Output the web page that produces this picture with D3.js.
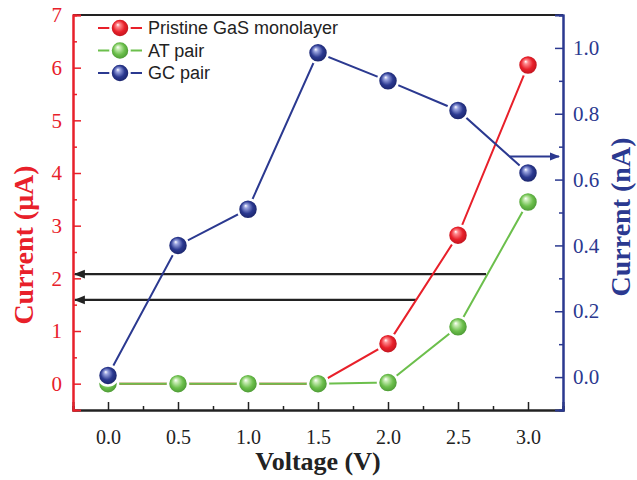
<!DOCTYPE html>
<html>
<head>
<meta charset="utf-8">
<script src="https://cdn.jsdelivr.net/npm/d3@7"></script>
<style>
  body { margin: 0; background: #fff; }
  svg { display: block; }
</style>
</head>
<body>
<div id="chart"></div>
<script>
// data
var voltage = [0.0, 0.5, 1.0, 1.5, 2.0, 2.5, 3.0];
var pristine = [0, 0, 0, 0, 0.76, 2.82, 6.05];      // uA, left axis
var atPair = [0, 0, 0, 0, 0.02, 1.08, 3.45];        // uA, left axis
var gcPair = [0.005, 0.40, 0.51, 0.985, 0.90, 0.81, 0.62]; // nA, right axis
var seriesNames = ["Pristine GaS monolayer", "AT pair", "GC pair"];
var xTicks = [0.0, 0.5, 1.0, 1.5, 2.0, 2.5, 3.0];
var leftTicks = [0, 1, 2, 3, 4, 5, 6, 7];
var rightTicks = [0.0, 0.2, 0.4, 0.6, 0.8, 1.0];
// arrows: [x start, x end, y] in data units
var leftArrows = [[2.7, -0.25, 2.08], [2.2, -0.25, 1.59]];
var rightArrow = [2.87, 3.25, 0.67];

var svgWidth = 637, svgHeight = 480;
var margin = { top: 15, right: 74, bottom: 70, left: 73 };
var width = svgWidth - margin.left - margin.right;
var height = svgHeight - margin.top - margin.bottom;

var red = "#e8202a", green = "#6cbf4c", blue = "#2b3990";
var serif = "'Liberation Serif', 'Times New Roman', serif";

var svg = d3.select("#chart").append("svg")
  .attr("width", svgWidth)
  .attr("height", svgHeight);

var defs = svg.append("defs");
[["red", "#ff8a8e", red, "#b0101a"], ["green", "#c8ecb4", green, "#3f8a2a"], ["blue", "#9aa4e0", blue, "#141d5c"]]
  .forEach(function(c) {
    var g = defs.append("radialGradient").attr("id", "ball-" + c[0])
      .attr("cx", "50%").attr("cy", "50%").attr("r", "55%")
      .attr("fx", "38%").attr("fy", "32%");
    g.append("stop").attr("offset", "0%").attr("stop-color", "#ffffff");
    g.append("stop").attr("offset", "18%").attr("stop-color", c[1]);
    g.append("stop").attr("offset", "55%").attr("stop-color", c[2]);
    g.append("stop").attr("offset", "100%").attr("stop-color", c[3]);
  });
function marker(id, color) {
  defs.append("marker").attr("id", id)
    .attr("viewBox", "0 0 10 10").attr("refX", 9).attr("refY", 5)
    .attr("markerWidth", 5).attr("markerHeight", 5)
    .attr("markerUnits", "strokeWidth")
    .attr("orient", "auto")
    .append("path").attr("d", "M0,1 L10,5 L0,9 Z").attr("fill", color);
}
marker("arrow-black", "#222");
marker("arrow-blue", blue);

var chartGroup = svg.append("g")
  .attr("transform", `translate(${margin.left}, ${margin.top})`);

var x = d3.scaleLinear().domain([-0.25, 3.25]).range([0, width]);
var yLeft = d3.scaleLinear().domain([-0.5, 7]).range([height, 0]);
var yRight = d3.scaleLinear().domain([-0.1, 1.1]).range([height, 0]);

// frame top line
chartGroup.append("line")
  .attr("x1", 0).attr("x2", width).attr("y1", 0).attr("y2", 0)
  .attr("stroke", "#222").attr("stroke-width", 2);

// bottom axis, ticks pointing inside
var xMinor = d3.range(-0.25, 3.26, 0.5);
var bottomG = chartGroup.append("g").attr("transform", `translate(0, ${height})`);
bottomG.call(d3.axisBottom(x).tickValues(xMinor).tickSize(-4).tickFormat(""));
bottomG.append("g").call(d3.axisBottom(x).tickValues(xTicks).tickSize(-8)
  .tickFormat(d3.format(".1f")));
bottomG.selectAll("path.domain").attr("stroke", "#222").attr("stroke-width", 2);
bottomG.selectAll(".tick line").attr("stroke", "#222").attr("stroke-width", 1.5);
bottomG.selectAll(".tick text")
  .attr("y", 20)
  .style("font-family", serif)
  .style("font-size", "20px").attr("fill", "#222");

// left axis
var leftG = chartGroup.append("g");
leftG.call(d3.axisLeft(yLeft).tickValues(d3.range(0.5, 7, 1)).tickSize(-4).tickFormat(""));
leftG.append("g").call(d3.axisLeft(yLeft).tickValues(leftTicks).tickSize(-8).tickPadding(11)
  .tickFormat(d3.format("d")));
leftG.selectAll("path.domain").attr("stroke", red).attr("stroke-width", 2);
leftG.selectAll(".tick line").attr("stroke", red).attr("stroke-width", 1.5);
leftG.selectAll(".tick text")
  .style("font-family", serif)
  .style("font-size", "21px").attr("fill", red);

// right axis
var rightG = chartGroup.append("g").attr("transform", `translate(${width}, 0)`);
rightG.call(d3.axisRight(yRight).tickValues(d3.range(-0.1, 1.11, 0.2)).tickSize(-4).tickFormat(""));
rightG.append("g").call(d3.axisRight(yRight).tickValues(rightTicks).tickSize(-8).tickPadding(10)
  .tickFormat(d3.format(".1f")));
rightG.selectAll("path.domain").attr("stroke", blue).attr("stroke-width", 2);
rightG.selectAll(".tick line").attr("stroke", blue).attr("stroke-width", 1.5);
rightG.selectAll(".tick text")
  .style("font-family", serif)
  .style("font-size", "21px").attr("fill", blue);

// axis titles
svg.append("text")
  .attr("transform", "translate(33, 245) rotate(-90)")
  .attr("text-anchor", "middle")
  .style("font-family", serif).style("font-weight", "bold").style("font-size", "28px")
  .attr("fill", red).text("Current (\u03bcA)");
svg.append("text")
  .attr("transform", "translate(630, 217) rotate(-90)")
  .attr("text-anchor", "middle")
  .style("font-family", serif).style("font-weight", "bold").style("font-size", "28px")
  .attr("fill", blue).text("Current (nA)");
svg.append("text")
  .attr("x", margin.left + x(1.5)).attr("y", 470)
  .attr("text-anchor", "middle")
  .style("font-family", serif).style("font-weight", "bold").style("font-size", "26px")
  .attr("fill", "#222").text("Voltage (V)");

// arrows
chartGroup.selectAll("line.arrow-left")
  .data(leftArrows).enter().append("line")
  .attr("class", "arrow-left")
  .attr("x1", d => x(d[0])).attr("x2", d => x(d[1]) + 2)
  .attr("y1", d => yLeft(d[2])).attr("y2", d => yLeft(d[2]))
  .attr("stroke", "#222").attr("stroke-width", 2.2)
  .attr("marker-end", "url(#arrow-black)");
chartGroup.append("line")
  .attr("x1", x(rightArrow[0])).attr("x2", x(rightArrow[1]) - 4)
  .attr("y1", yRight(rightArrow[2])).attr("y2", yRight(rightArrow[2]))
  .attr("stroke", blue).attr("stroke-width", 2)
  .attr("marker-end", "url(#arrow-blue)");

// series
var series = [
  { name: seriesNames[0], values: pristine, y: yLeft, color: red, ball: "red" },
  { name: seriesNames[1], values: atPair, y: yLeft, color: green, ball: "green" },
  { name: seriesNames[2], values: gcPair, y: yRight, color: blue, ball: "blue" }
];

series.forEach(function(s) {
  var line = d3.line()
    .x((d, i) => x(voltage[i]))
    .y(d => s.y(d));
  chartGroup.append("path")
    .datum(s.values)
    .attr("d", line)
    .attr("fill", "none")
    .attr("stroke", s.color)
    .attr("stroke-width", 2);
  chartGroup.selectAll("circle.ball-" + s.ball)
    .data(s.values).enter().append("circle")
    .attr("class", "ball-" + s.ball)
    .attr("cx", (d, i) => x(voltage[i]))
    .attr("cy", d => s.y(d))
    .attr("r", 10)
    .attr("fill", `url(#ball-${s.ball})`)
    .attr("stroke", "#fff")
    .attr("stroke-width", 2.5);
});

// legend
var legend = chartGroup.append("g").attr("transform", "translate(25, 13)");
var rows = legend.selectAll("g").data(series).enter().append("g")
  .attr("transform", (d, i) => `translate(0, ${i * 22.5})`);
rows.append("line")
  .attr("x1", 0).attr("x2", 44).attr("y1", 0).attr("y2", 0)
  .attr("stroke", d => d.color).attr("stroke-width", 2);
rows.append("circle")
  .attr("cx", 22).attr("cy", 0).attr("r", 9.5)
  .attr("fill", d => `url(#ball-${d.ball})`)
  .attr("stroke", "#fff").attr("stroke-width", 2.5);
rows.append("text")
  .attr("x", 50).attr("y", 6)
  .style("font-family", "'Liberation Sans', Arial, sans-serif")
  .style("font-size", "18px")
  .attr("fill", "#222")
  .text(d => d.name);
</script>
</body>
</html>
